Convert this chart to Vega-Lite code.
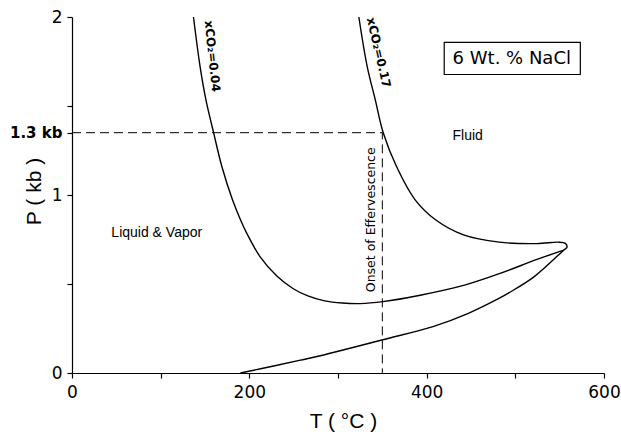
{
  "$schema": "https://vega.github.io/schema/vega-lite/v6.json",
  "width": 532,
  "height": 356,
  "autosize": {"type": "none"},
  "padding": {"left": 72, "top": 17, "right": 17, "bottom": 61},
  "background": "white",
  "config": {
    "view": {"stroke": null},
    "axis": {
      "grid": false,
      "domainColor": "black",
      "domainWidth": 1.2,
      "tickColor": "black",
      "tickWidth": 1.2,
      "tickSize": 5,
      "labelColor": "black",
      "labelFont": "DejaVu Sans",
      "labelFontSize": 17,
      "labelFlush": false,
      "labelOverlap": false,
      "titleColor": "black",
      "titleFont": "Liberation Sans",
      "titleFontSize": 21,
      "titleFontWeight": "normal"
    }
  },
  "datasets": {
    "curves": [
      {"curve": "xCO2=0.04", "ord": 1, "T": 137, "P": 2.0},
      {"curve": "xCO2=0.04", "ord": 2, "T": 144.5, "P": 1.72},
      {"curve": "xCO2=0.04", "ord": 3, "T": 151, "P": 1.536},
      {"curve": "xCO2=0.04", "ord": 4, "T": 159.7, "P": 1.35},
      {"curve": "xCO2=0.04", "ord": 5, "T": 169, "P": 1.16},
      {"curve": "xCO2=0.04", "ord": 6, "T": 181, "P": 0.973},
      {"curve": "xCO2=0.04", "ord": 7, "T": 190, "P": 0.861},
      {"curve": "xCO2=0.04", "ord": 8, "T": 197, "P": 0.786},
      {"curve": "xCO2=0.04", "ord": 9, "T": 212, "P": 0.654},
      {"curve": "xCO2=0.04", "ord": 10, "T": 231, "P": 0.545},
      {"curve": "xCO2=0.04", "ord": 11, "T": 250, "P": 0.472},
      {"curve": "xCO2=0.04", "ord": 12, "T": 266, "P": 0.433},
      {"curve": "xCO2=0.04", "ord": 13, "T": 285, "P": 0.405},
      {"curve": "xCO2=0.04", "ord": 14, "T": 305, "P": 0.393},
      {"curve": "xCO2=0.04", "ord": 15, "T": 325, "P": 0.39},
      {"curve": "xCO2=0.04", "ord": 16, "T": 350.6, "P": 0.401},
      {"curve": "xCO2=0.04", "ord": 17, "T": 392.7, "P": 0.437},
      {"curve": "xCO2=0.04", "ord": 18, "T": 441.6, "P": 0.492},
      {"curve": "xCO2=0.04", "ord": 19, "T": 482, "P": 0.558},
      {"curve": "xCO2=0.04", "ord": 20, "T": 524.4, "P": 0.638},
      {"curve": "xCO2=0.04", "ord": 21, "T": 554.5, "P": 0.69},
      {"curve": "xCO2=0.17", "ord": 1, "T": 323.5, "P": 2.0},
      {"curve": "xCO2=0.17", "ord": 2, "T": 333, "P": 1.72},
      {"curve": "xCO2=0.17", "ord": 3, "T": 342, "P": 1.536},
      {"curve": "xCO2=0.17", "ord": 4, "T": 351, "P": 1.35},
      {"curve": "xCO2=0.17", "ord": 5, "T": 366, "P": 1.16},
      {"curve": "xCO2=0.17", "ord": 6, "T": 387, "P": 0.973},
      {"curve": "xCO2=0.17", "ord": 7, "T": 410, "P": 0.861},
      {"curve": "xCO2=0.17", "ord": 8, "T": 441.6, "P": 0.776},
      {"curve": "xCO2=0.17", "ord": 9, "T": 482, "P": 0.735},
      {"curve": "xCO2=0.17", "ord": 10, "T": 524.4, "P": 0.727},
      {"curve": "xCO2=0.17", "ord": 11, "T": 548.8, "P": 0.735},
      {"curve": "xCO2=0.17", "ord": 12, "T": 556.4, "P": 0.728},
      {"curve": "xCO2=0.17", "ord": 13, "T": 558.3, "P": 0.707},
      {"curve": "xCO2=0.17", "ord": 14, "T": 554.5, "P": 0.69},
      {"curve": "xCO2=0.17", "ord": 15, "T": 521, "P": 0.54},
      {"curve": "xCO2=0.17", "ord": 16, "T": 492.6, "P": 0.45},
      {"curve": "xCO2=0.17", "ord": 17, "T": 482, "P": 0.42},
      {"curve": "xCO2=0.17", "ord": 18, "T": 447, "P": 0.335},
      {"curve": "xCO2=0.17", "ord": 19, "T": 408, "P": 0.262},
      {"curve": "xCO2=0.17", "ord": 20, "T": 350.6, "P": 0.187},
      {"curve": "xCO2=0.17", "ord": 21, "T": 280, "P": 0.097},
      {"curve": "xCO2=0.17", "ord": 22, "T": 257.6, "P": 0.072},
      {"curve": "xCO2=0.17", "ord": 23, "T": 230, "P": 0.042},
      {"curve": "xCO2=0.17", "ord": 24, "T": 190, "P": 0.0}
    ],
    "guide": [
      {"ord": 1, "T": 0, "P": 1.35},
      {"ord": 2, "T": 350, "P": 1.35},
      {"ord": 3, "T": 350, "P": 0}
    ],
    "box": [{"T": 419.8, "T2": 573.3, "P": 1.677, "P2": 1.858}],
    "lab004": [{"text": "xCO₂=0.04", "T": 158.3, "P": 1.78}],
    "lab017": [{"text": "xCO₂=0.17", "T": 346, "P": 1.8}],
    "boxlabel": [{"text": "6 Wt. % NaCl", "T": 496, "P": 1.766}],
    "regions": [
      {"text": "Fluid", "T": 446.3, "P": 1.33},
      {"text": "Liquid & Vapor", "T": 95.6, "P": 0.787}
    ],
    "onset": [{"text": "Onset of Effervescence", "T": 337.3, "P": 0.861}]
  },
  "encoding": {
    "x": {
      "field": "T", "type": "quantitative",
      "scale": {"domain": [0, 600], "nice": false},
      "axis": {
        "title": "T ( °C )",
        "values": [0, 100, 200, 300, 400, 500, 600],
        "labelExpr": "datum.value % 200 == 0 ? format(datum.value, 'd') : ''",
        "labelPadding": 6,
        "titleX": 271,
        "titleY": 54,
        "titleAlign": "center",
        "titleBaseline": "alphabetic"
      }
    },
    "y": {
      "field": "P", "type": "quantitative",
      "scale": {"domain": [0, 2], "nice": false},
      "axis": {
        "title": "P ( kb )",
        "values": [0, 0.5, 1, 1.35, 1.5, 2],
        "labelExpr": "datum.value == 1.35 ? '1.3 kb' : (datum.value == 0 ? '0' : (datum.value == 1 ? '1' : (datum.value == 2 ? '2' : '')))",
        "labelFontWeight": {"condition": {"test": "datum.value == 1.35", "value": "bold"}, "value": "normal"},
        "labelFontSize": {"condition": {"test": "datum.value == 1.35", "value": 15}, "value": 17},
        "labelPadding": 5,
        "titleAngle": -90,
        "titleX": -32,
        "titleY": 174,
        "titleAlign": "center",
        "titleBaseline": "alphabetic"
      }
    }
  },
  "layer": [
    {
      "data": {"name": "guide"},
      "mark": {"type": "line", "color": "black", "strokeWidth": 1, "strokeDash": [9, 5]},
      "encoding": {"order": {"field": "ord"}}
    },
    {
      "data": {"name": "curves"},
      "mark": {"type": "line", "color": "black", "strokeWidth": 1.4, "interpolate": "catmull-rom"},
      "encoding": {
        "detail": {"field": "curve"},
        "order": {"field": "ord"}
      }
    },
    {
      "data": {"name": "box"},
      "mark": {"type": "rect", "fill": "white", "stroke": "black", "strokeWidth": 1.2},
      "encoding": {
        "x2": {"field": "T2"},
        "y2": {"field": "P2"}
      }
    },
    {
      "data": {"name": "boxlabel"},
      "mark": {"type": "text", "font": "DejaVu Sans", "fontSize": 18, "color": "black", "align": "center", "baseline": "middle"},
      "encoding": {"text": {"field": "text"}}
    },
    {
      "data": {"name": "lab004"},
      "mark": {"type": "text", "font": "DejaVu Sans", "fontSize": 12, "fontWeight": "bold", "color": "black", "align": "center", "baseline": "middle", "angle": 84},
      "encoding": {"text": {"field": "text"}}
    },
    {
      "data": {"name": "lab017"},
      "mark": {"type": "text", "font": "DejaVu Sans", "fontSize": 12, "fontWeight": "bold", "color": "black", "align": "center", "baseline": "middle", "angle": 77},
      "encoding": {"text": {"field": "text"}}
    },
    {
      "data": {"name": "regions"},
      "mark": {"type": "text", "font": "Liberation Sans", "fontSize": 14, "color": "black", "align": "center", "baseline": "middle"},
      "encoding": {"text": {"field": "text"}}
    },
    {
      "data": {"name": "onset"},
      "mark": {"type": "text", "font": "DejaVu Sans", "fontSize": 12.5, "color": "black", "align": "center", "baseline": "middle", "angle": -90},
      "encoding": {"text": {"field": "text"}}
    }
  ]
}
